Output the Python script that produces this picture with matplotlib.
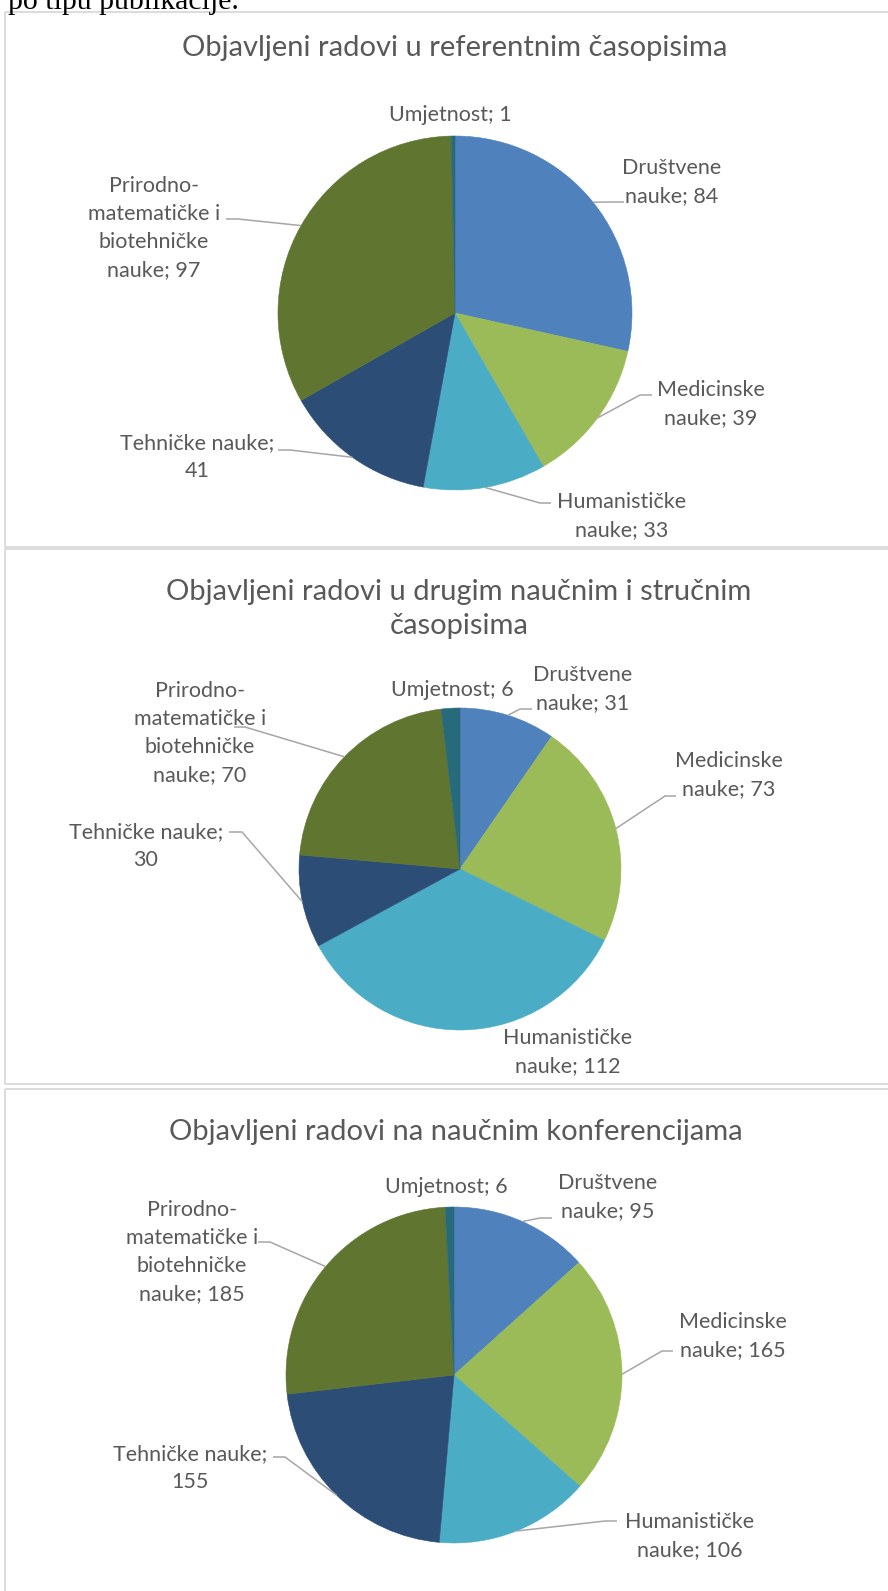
import matplotlib.pyplot as plt
from matplotlib.patches import Rectangle
import numpy as np

plt.rcParams['font.family'] = ['Lato', 'DejaVu Sans']

# data
categories = ["Društvene nauke", "Medicinske nauke", "Humanističke nauke",
              "Tehničke nauke", "Prirodno-matematičke i biotehničke nauke", "Umjetnost"]
referentni = [84, 39, 33, 41, 97, 1]
drugi_casopisi = [31, 73, 112, 30, 70, 6]
konferencije = [95, 165, 106, 155, 185, 6]

titles = ["Objavljeni radovi u referentnim časopisima",
          "Objavljeni radovi u drugim naučnim i stručnim\nčasopisima",
          "Objavljeni radovi na naučnim konferencijama"]

colors = ["#4F81BD", "#9BBB59", "#4BACC6", "#2C4D75", "#5F7530", "#276A7C"]
label_text = ["Društvene\nnauke; {}", "Medicinske\nnauke; {}", "Humanističke\nnauke; {}",
              "Tehničke nauke;\n{}", "Prirodno-\nmatematičke i\nbiotehničke\nnauke; {}",
              "Umjetnost; {}"]

TXT = "#595959"
LEAD = "#A6A6A6"

# layout in pixels (y downwards): panel box, title y, pie center, radius,
# per label: (text x, text y, elbow, end of leader) -- None for no leader
layouts = [
    dict(box=(5, 12, 547), title=(455, 48), center=(455, 313), r=177,
         labels=[(672, 182, (612, 202), (624, 202)),
                 (711, 404, (640, 395), (652, 395)),
                 (622, 516, (540, 503), (551, 503)),
                 (197, 457, (290, 450), (278, 450)),
                 (154, 228, (238, 219), (226, 219)),
                 (450, 115, None, None)]),
    dict(box=(5, 549, 1084), title=(459, 609), center=(460, 869), r=161,
         labels=[(583, 689, (520, 709), (532, 709)),
                 (729, 775, (665, 796), (676, 796)),
                 (568, 1052, None, None),
                 (146, 846, (242, 832), (229, 832)),
                 (200, 733, (245, 727), (234, 727)),
                 (452, 690, None, None)]),
    dict(box=(5, 1089, 1620), title=(456, 1132), center=(454, 1375), r=168,
         labels=[(608, 1197, (540, 1218), (552, 1218)),
                 (733, 1336, (662, 1351), (673, 1351)),
                 (690, 1536, (605, 1521), (617, 1521)),
                 (190, 1468, (285, 1457), (273, 1457)),
                 (192, 1252, (270, 1242), (258, 1242)),
                 (446, 1187, None, None)]),
]

fig = plt.figure(figsize=(8.88, 15.91), dpi=100)
ax = fig.add_axes([0, 0, 1, 1])

fig.text(8 / 888, 1 - 9 / 1591, "po tipu publikacije.", family="Liberation Serif",
         fontsize=21.5, color="black", va="baseline", ha="left")

for values, title, lay in zip([referentni, drugi_casopisi, konferencije], titles, layouts):
    x0, y0, y1 = lay["box"]
    ax.add_patch(Rectangle((x0, y0), 1000, y1 - y0, fill=False, ec="#D9D9D9", lw=1.3))
    ax.text(lay["title"][0], lay["title"][1], title, ha="center", va="center",
            fontsize=21, color=TXT, linespacing=1.4)

    cx, cy = lay["center"]
    r = lay["r"]
    # y axis is inverted, so counterclock=True draws clockwise on screen
    wedges, _ = ax.pie(values, colors=colors, startangle=-90, counterclock=True,
                       center=(cx, cy), radius=r, frame=True,
                       wedgeprops=dict(linewidth=0.4))
    for w in wedges:
        w.set_edgecolor(w.get_facecolor())

    for w, v, fmt, (tx, ty, elbow, end) in zip(wedges, values, label_text, lay["labels"]):
        ax.text(tx, ty, fmt.format(v), ha="center", va="center", fontsize=15.5,
                color=TXT, linespacing=1.5, multialignment="center")
        if elbow is not None:
            mid = np.deg2rad((w.theta1 + w.theta2) / 2)
            px, py = cx + r * np.cos(mid), cy + r * np.sin(mid)
            ax.plot([px, elbow[0], end[0]], [py, elbow[1], end[1]], color=LEAD, lw=1.1,
                    solid_capstyle="butt")

ax.set_xlim(0, 888)
ax.set_ylim(1591, 0)
ax.set_aspect("auto")
ax.axis("off")

fig.savefig("out.png", dpi=100, facecolor="white")
